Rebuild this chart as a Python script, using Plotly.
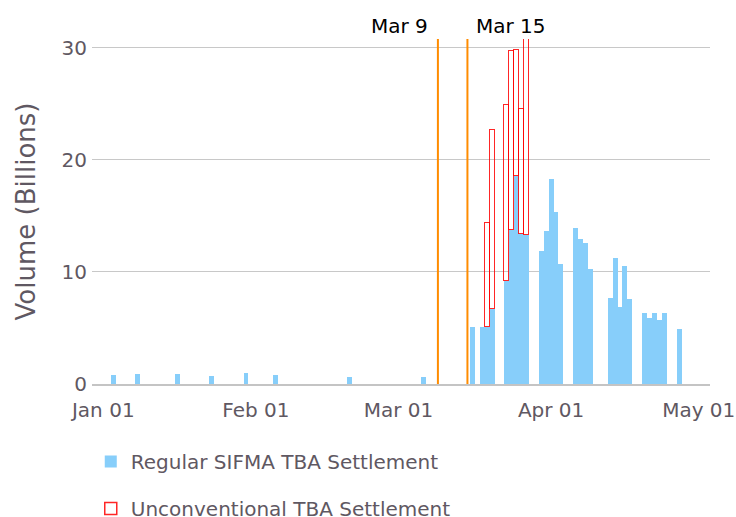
import plotly.graph_objects as go

# ---- data ----
regular_dates = ["2020-01-03", "2020-01-08", "2020-01-16", "2020-01-23", "2020-01-30",
                 "2020-02-05", "2020-02-20", "2020-03-06",
                 "2020-03-16", "2020-03-18", "2020-03-19", "2020-03-20",
                 "2020-03-23", "2020-03-24", "2020-03-25", "2020-03-26", "2020-03-27",
                 "2020-03-30", "2020-03-31", "2020-04-01", "2020-04-02", "2020-04-03",
                 "2020-04-06", "2020-04-07", "2020-04-08", "2020-04-09",
                 "2020-04-13", "2020-04-14", "2020-04-15", "2020-04-16", "2020-04-17",
                 "2020-04-20", "2020-04-21", "2020-04-22", "2020-04-23", "2020-04-24",
                 "2020-04-27"]
regular_values = [0.8, 0.9, 0.9, 0.7, 1.0,
                  0.8, 0.6, 0.6,
                  5.1, 5.1, 5.1, 6.7,
                  9.2, 13.75, 18.6, 13.4, 13.3,
                  11.9, 13.7, 18.3, 15.4, 10.7,
                  13.9, 12.95, 12.6, 10.3,
                  7.7, 11.25, 6.9, 10.55, 7.6,
                  6.35, 5.9, 6.35, 5.7, 6.35,
                  4.9]

unconv_dates = ["2020-03-19", "2020-03-20", "2020-03-23", "2020-03-24",
                "2020-03-25", "2020-03-26", "2020-03-27"]
unconv_values = [9.3, 16.0, 15.7, 15.95, 11.2, 11.15, 17.5]

event_dates = ["2020-03-09", "2020-03-15"]
event_labels = ["Mar 9", "Mar 15"]

FONT = "DejaVu Sans"
GRAY = "#5f5862"
DAY_MS = 86400000

fig = go.Figure()
fig.add_trace(go.Bar(
    x=regular_dates, y=regular_values,
    name="Regular SIFMA TBA Settlement",
    legendgroup="a",
    width=DAY_MS,
    marker=dict(color="#87CEFA", line=dict(width=0)),
))
fig.add_trace(go.Bar(
    x=unconv_dates, y=unconv_values,
    name="Unconventional TBA Settlement",
    legendgroup="b",
    width=DAY_MS,
    marker=dict(color="rgba(255,255,255,0)",
                line=dict(color="rgba(255,0,0,0.85)", width=1.5)),
))

for d, lab, side in zip(event_dates, event_labels, ["right", "left"]):
    fig.add_shape(type="line", xref="x", yref="paper", x0=d, x1=d, y0=0, y1=1,
                  line=dict(color="#FF8C00", width=2))
    fig.add_annotation(x=d, y=1, xref="x", yref="paper", text=lab,
                       showarrow=False, xanchor=side, yanchor="bottom",
                       xshift=-8 if side == "right" else 7, yshift=-1,
                       font=dict(family=FONT, size=20, color="black"))

fig.update_layout(
    width=736, height=517,
    margin=dict(l=92, r=26, t=39, b=133, autoexpand=False),
    paper_bgcolor="white", plot_bgcolor="white",
    barmode="stack", bargap=0,
    font=dict(family=FONT, size=20, color=GRAY),
    showlegend=True,
    legend=dict(orientation="v", x=-0.002, xanchor="left", y=-0.168, yanchor="top",
                font=dict(family=FONT, size=20, color=GRAY),
                tracegroupgap=18, bgcolor="rgba(0,0,0,0)"),
    xaxis=dict(
        type="date",
        range=["2019-12-29 17:00", "2020-05-03 07:00"],
        tick0="2020-01-01", dtick="M1", tickformat="%b %d",
        showgrid=False, showline=True, linecolor="#c4c4c4", linewidth=2,
        ticks="", zeroline=False, automargin=False, ticklabelstandoff=7,
        tickfont=dict(family=FONT, size=20, color=GRAY),
    ),
    yaxis=dict(
        range=[0, 30.8], dtick=10, tick0=0,
        showgrid=True, gridcolor="#c8c8c8", gridwidth=1,
        zeroline=False, showline=False, ticks="", automargin=False,
        ticklabelstandoff=4,
        tickfont=dict(family=FONT, size=20, color=GRAY),
        title=dict(text="Volume (Billions)", standoff=18,
                   font=dict(family=FONT, size=26, color=GRAY)),
    ),
)

fig.write_html("out.html",
               config={"displayModeBar": False},
               post_script="document.body.style.margin='0';"
                           "document.body.style.overflow='hidden';")
